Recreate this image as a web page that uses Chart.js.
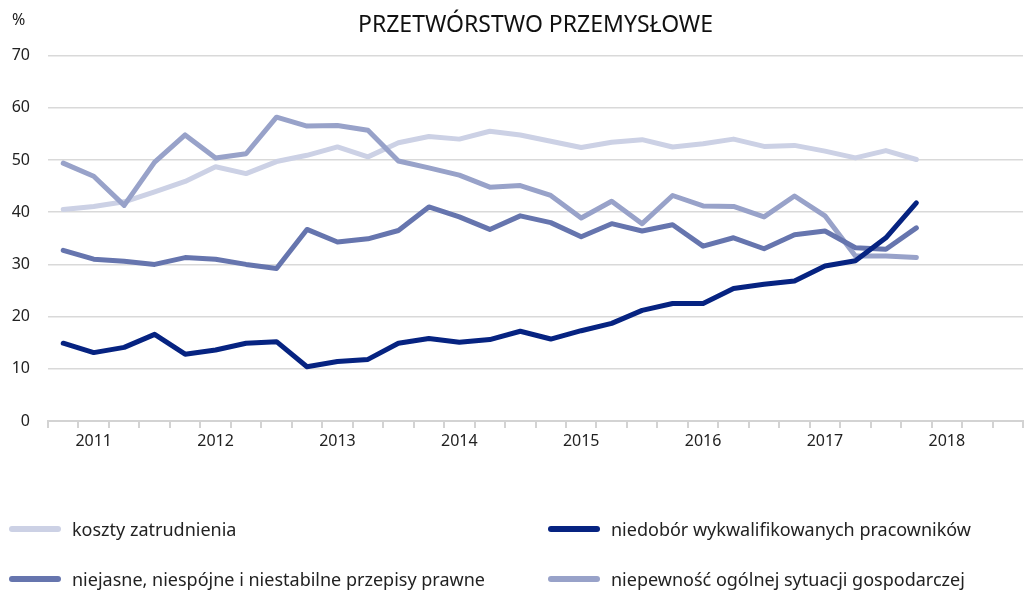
<!DOCTYPE html>
<html>
  <head>
    <meta charset="utf-8" />
    <title>Przetwórstwo przemysłowe</title>
    <script src="https://cdn.jsdelivr.net/npm/chart.js"></script>
    <style>
      * {
        box-sizing: border-box;
        margin: 0;
        padding: 0;
      }
      body {
        font-family: "Noto Sans", sans-serif;
        background: #fff;
        color: #222;
      }
      #wrap {
        position: relative;
        width: 1026px;
        height: 592px;
      }
      #unit {
        position: absolute;
        left: 12px;
        top: 8px;
        font-size: 16px;
      }
      #legend {
        position: absolute;
        left: 9px;
        top: 514px;
        display: grid;
        grid-template-columns: 539px auto;
        row-gap: 20px;
        font-size: 18px;
      }
      .item {
        display: flex;
        align-items: center;
        height: 30px;
      }
      .swatch {
        width: 52px;
        height: 6px;
        border-radius: 3px;
        margin-right: 11px;
      }
    </style>
  </head>
  <body>
    <div id="wrap">
      <canvas id="chart"></canvas>
      <div id="unit">%</div>
      <div id="legend"></div>
    </div>

    <script>
      // quarters, year shown on the first quarter of each year
      const xTickLabels = [
        "", "2011", "", "", "", "2012", "", "", "", "2013", "", "",
        "", "2014", "", "", "", "2015", "", "", "", "2016", "", "",
        "", "2017", "", "", "", "2018", "", "",
      ];

      const koszty = [
        40.5, 41.1, 42.0, 43.9, 45.9, 48.7, 47.4, 49.7, 50.9, 52.5, 50.6,
        53.3, 54.5, 54.0, 55.5, 54.8, 53.6, 52.4, 53.4, 53.9, 52.5, 53.1,
        54.0, 52.6, 52.8, 51.7, 50.4, 51.8, 50.1,
      ];
      const niedobor = [
        14.9, 13.1, 14.1, 16.6, 12.8, 13.6, 14.9, 15.2, 10.4, 11.4, 11.8,
        14.9, 15.8, 15.1, 15.6, 17.2, 15.7, 17.3, 18.7, 21.2, 22.5, 22.5,
        25.4, 26.2, 26.8, 29.7, 30.7, 35.1, 41.8,
      ];
      const przepisy = [
        32.7, 31.0, 30.6, 30.0, 31.3, 31.0, 30.0, 29.2, 36.7, 34.3, 34.9,
        36.5, 41.0, 39.1, 36.7, 39.3, 38.0, 35.3, 37.8, 36.4, 37.6, 33.5,
        35.1, 33.0, 35.7, 36.4, 33.2, 32.9, 37.0,
      ];
      const niepewnosc = [
        49.4, 46.9, 41.3, 49.6, 54.8, 50.4, 51.2, 58.2, 56.5, 56.6, 55.7,
        49.8, 48.5, 47.1, 44.8, 45.1, 43.2, 38.9, 42.1, 37.8, 43.2, 41.2,
        41.1, 39.1, 43.1, 39.3, 31.6, 31.6, 31.3,
      ];

      const FONT = "'Noto Sans', sans-serif";

      function line(label, data, color, order) {
        return {
          label: label,
          data: data,
          borderColor: color,
          backgroundColor: color,
          borderWidth: 5,
          pointRadius: 0,
          pointHoverRadius: 4,
          borderJoinStyle: "round",
          borderCapStyle: "round",
          tension: 0,
          fill: false,
          order: order,
        };
      }

      const ctx = document.getElementById("chart").getContext("2d");
      const chart = new Chart(ctx, {
        type: "line",
        data: {
          labels: xTickLabels,
          datasets: [
            line("koszty zatrudnienia", koszty, "#ccd1e5", 3),
            line("niedobór wykwalifikowanych pracowników", niedobor, "#062381", 0),
            line("niejasne, niespójne i niestabilne przepisy prawne", przepisy, "#6675ae", 1),
            line("niepewność ogólnej sytuacji gospodarczej", niepewnosc, "#98a2c9", 2),
          ],
        },
        options: {
          responsive: true,
          maintainAspectRatio: false,
          animation: false,
          layout: { padding: { left: 0, right: 3, top: 0, bottom: 0 } },
          scales: {
            x: {
              type: "category",
              offset: true,
              grid: {
                offset: true,
                drawOnChartArea: false,
                drawTicks: true,
                tickLength: 7,
                color: "#d3d3d3",
                lineWidth: 2,
              },
              border: { display: true, color: "#d3d3d3", width: 2 },
              ticks: {
                autoSkip: false,
                maxRotation: 0,
                padding: 4,
                color: "#222",
                font: { family: FONT, size: 16 },
              },
              afterFit: (scale) => {
                scale.height = 171;
              },
            },
            y: {
              min: 0,
              max: 70,
              ticks: {
                stepSize: 10,
                padding: 18,
                color: "#222",
                font: { family: FONT, size: 16 },
              },
              grid: { color: "#d9d9d9", lineWidth: 1.5, drawTicks: false },
              border: { display: false },
              afterFit: (scale) => {
                scale.width = 48;
              },
            },
          },
          plugins: {
            legend: { display: false },
            title: {
              display: true,
              text: "PRZETWÓRSTWO PRZEMYSŁOWE",
              fullSize: false,
              color: "#111",
              font: { family: FONT, size: 23, weight: "normal" },
              padding: { top: 12, bottom: 16 },
            },
          },
        },
      });

      // legend in two columns below the chart
      const legendEl = document.getElementById("legend");
      chart.data.datasets.forEach((ds) => {
        const item = document.createElement("div");
        item.className = "item";
        const sw = document.createElement("span");
        sw.className = "swatch";
        sw.style.background = ds.borderColor;
        const txt = document.createElement("span");
        txt.textContent = ds.label;
        item.appendChild(sw);
        item.appendChild(txt);
        legendEl.appendChild(item);
      });
    </script>
  </body>
</html>
